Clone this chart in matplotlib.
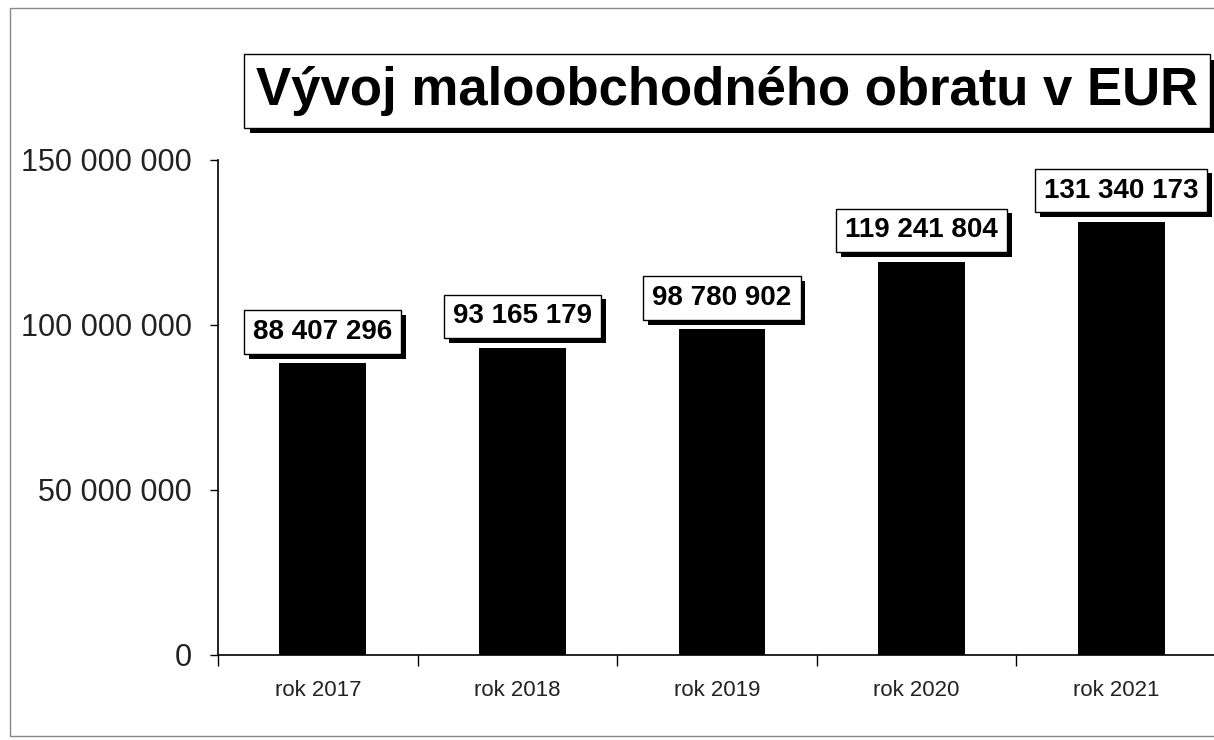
import matplotlib
matplotlib.use("Agg")
import matplotlib.pyplot as plt
import matplotlib.patheffects as pe
from matplotlib.patches import Rectangle

categories = ["rok 2017", "rok 2018", "rok 2019", "rok 2020", "rok 2021"]
values = [88407296, 93165179, 98780902, 119241804, 131340173]
y_ticks = [0, 50000000, 100000000, 150000000]
title = "Vývoj maloobchodného obratu v EUR"

FONT = ["Liberation Sans", "DejaVu Sans"]


def fmt(v):
    return f"{v:,}".replace(",", " ")


def add_shadow(txt, off=3.5):
    # drop shadow to the lower right of the text box
    txt.get_bbox_patch().set_path_effects([
        pe.SimplePatchShadow(offset=(off, -off), shadow_rgbFace="black", alpha=1.0),
        pe.Normal(),
    ])


fig = plt.figure(figsize=(12.14, 7.40), dpi=100)
ax = fig.add_axes([218 / 1214, 85 / 740, 998 / 1214, 495 / 740])

x = [i + 0.025 for i in range(len(categories))]
ax.bar(x, values, width=0.435, color="black", zorder=2)

ax.set_xlim(-0.5, len(categories) - 0.5)
ax.set_ylim(0, 150000000)
ax.set_yticks(y_ticks)
ax.set_yticklabels([fmt(t) for t in y_ticks], fontsize=22, family=FONT, color="#222222")
ax.set_xticks(range(len(categories)))
ax.set_xticklabels(categories, fontsize=16, family=FONT, color="#222222")
ax.tick_params(axis="x", length=0, pad=18)
ax.tick_params(axis="y", length=6, width=1, pad=13)
# category boundary ticks on the x axis
ax.set_xticks([i - 0.5 for i in range(len(categories) + 1)], minor=True)
ax.tick_params(axis="x", which="minor", length=8, width=1)

for side in ["top", "right"]:
    ax.spines[side].set_visible(False)
for side in ["left", "bottom"]:
    ax.spines[side].set_linewidth(1.2)

# value labels in boxes with a drop shadow
for xi, v in zip(x, values):
    t = ax.annotate(fmt(v), xy=(xi, v), xytext=(0, 13), textcoords="offset points",
                    ha="center", va="bottom", fontsize=20, fontweight="bold", family=FONT,
                    color="black", zorder=5,
                    bbox=dict(boxstyle="square,pad=0.32", fc="white", ec="black", lw=1))
    add_shadow(t)

# title box with shadow
t = fig.text(256 / 1214, 1 - 91 / 740, title, fontsize=38, fontweight="bold",
             family=FONT, ha="left", va="center",
             bbox=dict(boxstyle="square,pad=0.22", fc="white", ec="black", lw=1))
add_shadow(t, 4)

# outer frame of the chart area
fig.patches.append(Rectangle((10 / 1214, 4 / 740), 1.2, 728 / 740, transform=fig.transFigure,
                             fill=False, ec="#888888", lw=1))

fig.savefig("out.png", dpi=100)
